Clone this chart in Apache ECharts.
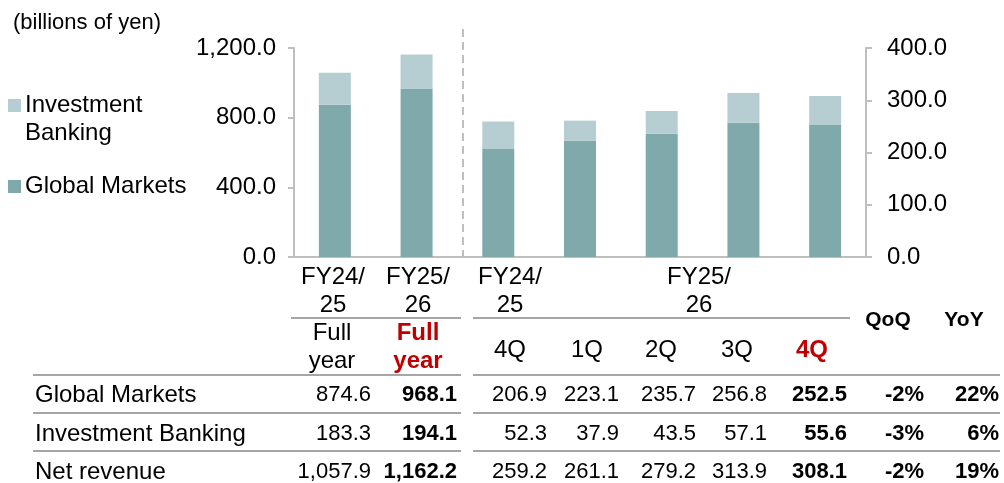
<!DOCTYPE html>
<html>
<head>
<meta charset="utf-8">
<script src="https://cdn.jsdelivr.net/npm/echarts@6/dist/echarts.min.js"></script>
<style>
html,body{margin:0;padding:0;background:#fff;}
#chart{width:1004px;height:483px;}
</style>
</head>
<body>
<div id="chart"></div>
<script>
// ---- data ----
const categories = ['FY24/25 Full year','FY25/26 Full year','FY24/25 4Q','FY25/26 1Q','FY25/26 2Q','FY25/26 3Q','FY25/26 4Q'];
const fullYearGM = [874.6, 968.1];
const fullYearIB = [183.3, 194.1];
const fullYearNet = [1057.9, 1162.2];
const quarterGM = [206.9, 223.1, 235.7, 256.8, 252.5];
const quarterIB = [52.3, 37.9, 43.5, 57.1, 55.6];
const quarterNet = [259.2, 261.1, 279.2, 313.9, 308.1];
const qoq = ['-2%', '-3%', '-2%'];
const yoy = ['22%', '6%', '19%'];
const rowLabels = ['Global Markets', 'Investment Banking', 'Net revenue'];
const leftTicks = [0, 400, 800, 1200];
const rightTicks = [0, 100, 200, 300, 400];
const headerPeriods = ['FY24/\n25', 'FY25/\n26', 'FY24/\n25', 'FY25/\n26'];
const headerSub = ['Full\nyear', 'Full\nyear', '4Q', '1Q', '2Q', '3Q', '4Q'];
const headerChange = ['QoQ', 'YoY'];
const unitLabel = '(billions of yen)';

// ---- style ----
const FONT = '"Liberation Sans", Arial, sans-serif';
const DARK = '#80A9AC';
const LIGHT = '#B6CED2';
const RED = '#C00000';
const AXIS = '#BFBFBF';
const RULE = '#A6A6A6';

const nF = fullYearGM.length, nQ = quarterGM.length;
const blankF = new Array(nQ).fill('-');
const blankQ = new Array(nF).fill('-');

const fmt = v => Number(v).toLocaleString('en-US', {minimumFractionDigits: 1, maximumFractionDigits: 1});

const chart = echarts.init(document.getElementById('chart'), null, {renderer: 'canvas'});

// table layout
const colRight = [371, 457, 547, 619, 696, 767, 847, 924, 999];
const boldCols = [1, 6, 7, 8];
const rowY = [395, 434, 472];
const graphics = [];

function txt(x, y, s, opt) {
  opt = opt || {};
  graphics.push({
    type: 'text', x: x, y: y, silent: true,
    style: {
      text: s, x: 0, y: 0,
      font: (opt.bold ? 'bold ' : '') + (opt.size || 22) + 'px ' + FONT,
      fill: opt.color || '#000',
      textAlign: opt.align || 'left',
      textVerticalAlign: 'middle',
      lineHeight: opt.lh || 28
    }
  });
}
function hline(y, x1, x2, color) {
  graphics.push({type: 'line', silent: true, shape: {x1: x1, y1: y, x2: x2, y2: y}, style: {stroke: color || RULE, lineWidth: 2}});
}

// unit + legend
txt(13, 23, unitLabel, {size: 22});
graphics.push({type: 'rect', shape: {x: 8, y: 99, width: 13, height: 13}, style: {fill: LIGHT}});
txt(25, 119, 'Investment\nBanking', {size: 24});
graphics.push({type: 'rect', shape: {x: 8, y: 180, width: 13, height: 13}, style: {fill: DARK}});
txt(25, 186, 'Global Markets', {size: 24});

// divider between full year and quarters
graphics.push({type: 'line', silent: true, shape: {x1: 463, y1: 29, x2: 463, y2: 262},
  style: {stroke: AXIS, lineWidth: 2, lineDash: [8, 5]}});

// header
const periodX = [333, 418, 510, 699];
headerPeriods.forEach((s, i) => txt(periodX[i], 291, s, {align: 'center', size: 24}));
hline(318, 291, 461); hline(318, 473, 850);
const subX = [332, 418, 510, 587, 661, 737, 812];
const subY = [347, 347, 350, 350, 350, 350, 350];
headerSub.forEach((s, i) => {
  const hi = (i === 1 || i === 6);
  txt(subX[i], subY[i], s, {align: 'center', size: 24, bold: hi, color: hi ? RED : '#000'});
});
txt(888, 320, headerChange[0], {align: 'center', size: 21, bold: true});
txt(964, 320, headerChange[1], {align: 'center', size: 21, bold: true});

// rules
[375, 413, 451].forEach(y => { hline(y, 33, 461); hline(y, 473, 1000); });

// rows
const rows = [
  fullYearGM.concat(quarterGM).map(fmt).concat([qoq[0], yoy[0]]),
  fullYearIB.concat(quarterIB).map(fmt).concat([qoq[1], yoy[1]]),
  fullYearNet.concat(quarterNet).map(fmt).concat([qoq[2], yoy[2]])
];
rows.forEach((r, ri) => {
  txt(35, rowY[ri], rowLabels[ri], {size: 24});
  r.forEach((s, ci) => txt(colRight[ci], rowY[ri], s, {align: 'right', size: 22, bold: boldCols.includes(ci)}));
});

const option = {
  animation: false,
  backgroundColor: '#fff',
  textStyle: {fontFamily: FONT},
  grid: {left: 294, right: 138, top: 48, bottom: 226, containLabel: false},
  xAxis: {
    type: 'category', data: categories,
    axisLine: {lineStyle: {color: AXIS, width: 2}},
    axisTick: {show: false}, axisLabel: {show: false}
  },
  yAxis: [
    {type: 'value', position: 'left', min: leftTicks[0], max: leftTicks[leftTicks.length - 1], interval: 400,
      splitLine: {show: false},
      axisLine: {show: true, lineStyle: {color: AXIS, width: 2}},
      axisTick: {show: true, length: 6, lineStyle: {color: AXIS, width: 2}},
      axisLabel: {margin: 18, fontSize: 24, color: '#000', fontFamily: FONT, formatter: v => fmt(v)}},
    {type: 'value', position: 'right', min: rightTicks[0], max: rightTicks[rightTicks.length - 1], interval: 100,
      splitLine: {show: false},
      axisLine: {show: true, lineStyle: {color: AXIS, width: 2}},
      axisTick: {show: true, length: 6, lineStyle: {color: AXIS, width: 2}},
      axisLabel: {margin: 21, fontSize: 24, color: '#000', fontFamily: FONT, formatter: v => fmt(v)}}
  ],
  series: [
    {name: 'Global Markets', type: 'bar', stack: 'full', yAxisIndex: 0, barWidth: 32, barGap: '-100%',
      itemStyle: {color: DARK}, data: fullYearGM.concat(blankF)},
    {name: 'Investment Banking', type: 'bar', stack: 'full', yAxisIndex: 0, barWidth: 32, barGap: '-100%',
      itemStyle: {color: LIGHT}, data: fullYearIB.concat(blankF)},
    {name: 'Global Markets', type: 'bar', stack: 'quarter', yAxisIndex: 1, barWidth: 32, barGap: '-100%',
      itemStyle: {color: DARK}, data: blankQ.concat(quarterGM)},
    {name: 'Investment Banking', type: 'bar', stack: 'quarter', yAxisIndex: 1, barWidth: 32, barGap: '-100%',
      itemStyle: {color: LIGHT}, data: blankQ.concat(quarterIB)}
  ],
  graphic: {elements: graphics}
};
chart.setOption(option);
</script>
</body>
</html>
